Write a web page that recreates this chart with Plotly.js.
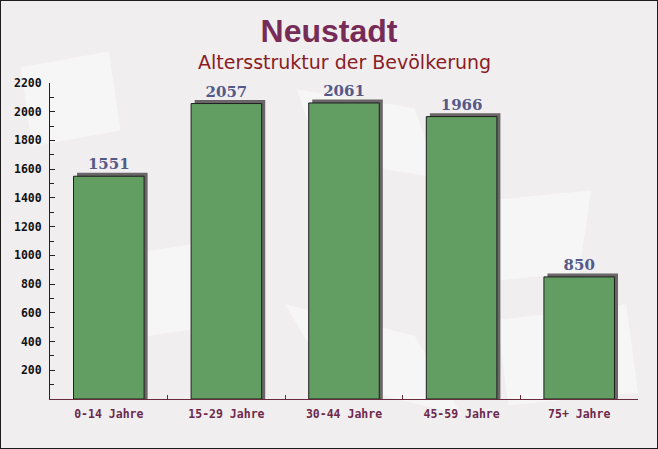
<!DOCTYPE html>
<html>
<head>
<meta charset="utf-8">
<script src="https://cdn.plot.ly/plotly-3.0.1.min.js"></script>
<style>
  html, body { margin: 0; padding: 0; background: #f1eef0; }
  #wrap { position: relative; width: 658px; height: 449px; }
  #plot { width: 658px; height: 449px; }
  #frame { position: absolute; left: 0; top: 0; width: 656px; height: 447px;
           border: 1px solid #1c1c1c; pointer-events: none; }
</style>
</head>
<body>
<div id="wrap">
  <div id="plot"></div>
  <div id="frame"></div>
</div>
<script>
var groups = ["0-14 Jahre", "15-29 Jahre", "30-44 Jahre", "45-59 Jahre", "75+ Jahre"];
var counts = [1551, 2057, 2061, 1966, 850];
var yTicks = [200, 400, 600, 800, 1000, 1200, 1400, 1600, 1800, 2000, 2200];

var pltData = document.getElementById("plot");

// shadow bar sits a few px right and up of the real bar
var shadowLift = 24;

var shadow = {
  type: "bar",
  x: groups,
  y: counts.map(function(v) { return v + shadowLift; }),
  width: 0.6,
  offset: -0.27,
  marker: { color: "#6a6668" },
  hoverinfo: "skip",
  showlegend: false
};

var bars = {
  type: "bar",
  x: groups,
  y: counts,
  width: 0.6,
  offset: -0.3,
  marker: { color: "rgb(98,158,98)", line: { color: "#1e1e1e", width: 1 } },
  text: counts.map(String),
  textposition: "outside",
  cliponaxis: false,
  textfont: { family: "DejaVu Serif", size: 15, weight: "bold", color: "#545a88" },
  showlegend: false
};

// faint paper-like patches in the background
function patch(x0, y0, x1, y1, x2, y2, x3, y3) {
  return {
    type: "path", xref: "paper", yref: "paper", layer: "below",
    path: "M" + x0 + "," + y0 + " L" + x1 + "," + y1 + " L" + x2 + "," + y2 + " L" + x3 + "," + y3 + " Z",
    fillcolor: "rgba(255,255,255,0.45)", line: { width: 0 }
  };
}

var layout = {
  width: 658,
  height: 449,
  margin: { l: 50, r: 20, t: 83, b: 50 },
  paper_bgcolor: "rgba(0,0,0,0)",
  plot_bgcolor: "rgba(0,0,0,0)",
  barmode: "overlay",
  title: {
    text: "Neustadt",
    font: { family: "Liberation Sans", size: 32, weight: "bold", color: "#772c57" },
    x: 0.5, xanchor: "center",
    y: 1 - 31 / 449, yanchor: "middle"
  },
  annotations: [{
    text: "Altersstruktur der Bevölkerung",
    xref: "paper", yref: "paper",
    x: 0.5, y: 1.066, xanchor: "center", yanchor: "middle",
    showarrow: false,
    font: { family: "DejaVu Sans", size: 19, color: "#8a1c24" }
  }],
  shapes: [
    patch(0.42, 0.98, 0.62, 0.92, 0.66, 0.70, 0.46, 0.76),
    patch(0.70, 0.62, 0.92, 0.66, 0.90, 0.40, 0.68, 0.36),
    patch(0.10, 0.45, 0.28, 0.50, 0.24, 0.22, 0.06, 0.17),
    patch(0.40, 0.30, 0.62, 0.20, 0.70, -0.05, 0.48, 0.05),
    patch(0.76, 0.25, 0.98, 0.30, 1.00, 0.02, 0.78, -0.02),
    patch(-0.05, 1.05, 0.10, 1.10, 0.12, 0.85, -0.03, 0.80)
  ],
  xaxis: {
    showgrid: false,
    showline: true,
    linecolor: "#6b2a3c",
    linewidth: 1,
    ticks: "inside",
    tickson: "boundaries",
    ticklen: 4,
    tickcolor: "#6b2a3c",
    ticklabelstandoff: 4,
    tickfont: { family: "DejaVu Sans Mono", size: 11.5, weight: "bold", color: "#6b2a4c" }
  },
  yaxis: {
    range: [0, 2200],
    showgrid: false,
    zeroline: false,
    showline: true,
    linecolor: "#222",
    linewidth: 1,
    ticks: "inside",
    ticklen: 5,
    tickcolor: "#222",
    tickvals: yTicks,
    ticklabelstandoff: 5,
    tickfont: { family: "DejaVu Sans Mono", size: 11.5, weight: "bold", color: "#111" },
    minor: { dtick: 100, ticks: "inside", ticklen: 4, tickcolor: "#222" }
  }
};

Plotly.newPlot(pltData, [shadow, bars], layout, { displayModeBar: false, staticPlot: true });
</script>
</body>
</html>
